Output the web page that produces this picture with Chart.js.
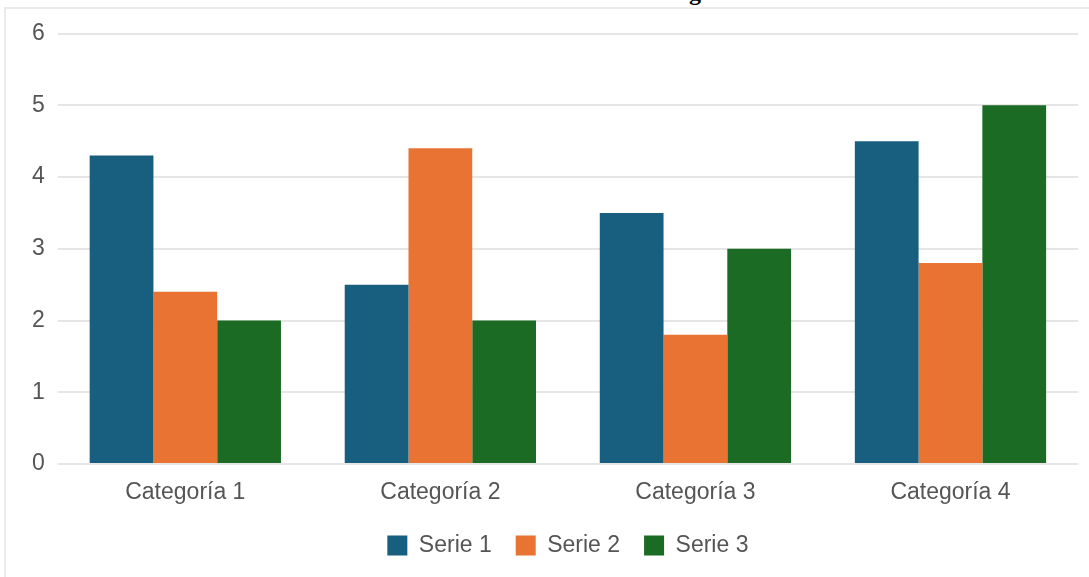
<!DOCTYPE html>
<html>
<head>
<meta charset="utf-8">
<script src="https://cdn.jsdelivr.net/npm/chart.js@4/dist/chart.umd.min.js"></script>
<style>
  html, body { margin: 0; padding: 0; background: #fff; overflow: hidden; }
  body { width: 1089px; height: 577px; position: relative; }
  #frame { position: absolute; left: 4px; top: 7px; width: 1085px; height: 570px;
           border-top: 2px solid #ebebeb; border-left: 2px solid #ebebeb; box-sizing: border-box; }
  #wrap { position: absolute; left: 6px; top: 9px; width: 1083px; height: 568px; }
  #above { position: absolute; left: 689px; top: -21px; font: bold 24px "Liberation Serif", serif; color: #000; }
</style>
</head>
<body>
<div id="above">g</div>
<div id="frame"></div>
<div id="wrap"><canvas id="c"></canvas></div>
<script>
const categories = ["Categoría 1", "Categoría 2", "Categoría 3", "Categoría 4"];
const seriesNames = ["Serie 1", "Serie 2", "Serie 3"];
const serie1 = [4.3, 2.5, 3.5, 4.5];
const serie2 = [2.4, 4.4, 1.8, 2.8];
const serie3 = [2, 2, 3, 5];
const colors = ["#175e7f", "#e97332", "#1b6b24"];

const fontFamily = '"Liberation Sans", Arial, sans-serif';

new Chart(document.getElementById("c"), {
  type: "bar",
  data: {
    labels: categories,
    datasets: [serie1, serie2, serie3].map((d, i) => ({
      label: seriesNames[i],
      data: d,
      backgroundColor: colors[i],
      borderWidth: 0,
      categoryPercentage: 0.75,
      barPercentage: 1.0
    }))
  },
  options: {
    responsive: true,
    maintainAspectRatio: false,
    animation: false,
    devicePixelRatio: 1,
    layout: { padding: { left: 13, right: 11, top: 8, bottom: 10 } },
    plugins: {
      legend: {
        position: "bottom",
        fullSize: false,
        labels: {
          boxWidth: 20, boxHeight: 20, padding: 24,
          color: "#555",
          font: { family: fontFamily, size: 23 }
        }
      },
      tooltip: { enabled: false }
    },
    scales: {
      x: {
        grid: { display: false, drawTicks: false },
        border: { display: false },
        ticks: { color: "#555", padding: 15.2, font: { family: fontFamily, size: 23 } },
        afterFit: (scale) => { scale.height = 46; }
      },
      y: {
        min: 0, max: 6,
        grid: { color: "#e6e6e6", lineWidth: 2, drawTicks: false },
        border: { display: false },
        ticks: { stepSize: 1, color: "#555", padding: 13, font: { family: fontFamily, size: 23, lineHeight: 1.0 } }
      }
    }
  }
});
</script>
</body>
</html>
